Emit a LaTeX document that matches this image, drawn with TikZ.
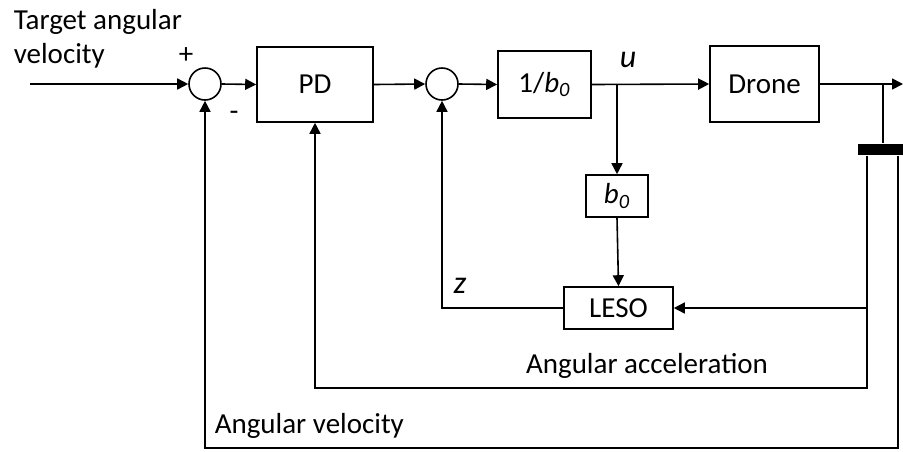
\documentclass[tikz,border=0pt]{standalone}
\usepackage{fontspec}
\setmainfont{Carlito}
\usetikzlibrary{arrows.meta, positioning, calc}

\begin{document}
\begin{tikzpicture}[x=0.5pt, y=-0.5pt, line width=0.8pt,
    every node/.style={font=\fontsize{14.5}{17}\selectfont},
    block/.style={draw, rectangle, inner sep=0pt},
    sumnode/.style={draw, circle, minimum size=16pt, inner sep=0pt},
    arr/.style={-{Triangle[length=5.5pt, width=5.5pt]}}]
    \useasboundingbox (0,0) rectangle (903,451);
    % summing points and blocks
    \node[sumnode] (s1) at (205,84) {};
    \node[block, minimum width=58pt, minimum height=37.5pt] (pd) at (315,84.5) {PD};
    \node[sumnode] (s2) at (442,84) {};
    \node[block, minimum width=46.5pt, minimum height=33.5pt] (inv) at (544.5,84.5) {1/\textit{b}\textsubscript{\textit{0}}};
    \node[block, minimum width=54.5pt, minimum height=38pt] (drone) at (764.5,84) {Drone};
    \node[block, minimum width=31pt, minimum height=21pt] (bzero) at (617,196) {\textit{b}\textsubscript{\textit{0}}};
    \node[block, minimum width=54.5pt, minimum height=21pt] (leso) at (618.5,308) {LESO};
    \node[fill, inner sep=0pt, minimum width=22.5pt, minimum height=5.5pt] (bar) at (880.5,149.5) {};
    % helper points
    \coordinate (in) at (30,84);
    \coordinate (ubr) at (617,84);
    \coordinate (out) at (903,84);
    \coordinate (tap) at (883,84);
    \coordinate (fbA) at (867,388);
    \coordinate (fbV) at (898,448);
    % forward path
    \draw[arr] (in) -- (s1.west);
    \draw[arr] (s1.east) -- (pd.west);
    \draw[arr] (pd.east) -- (s2.west);
    \draw[arr] (s2.east) -- (inv.west);
    \draw[arr] (inv.east) -- (drone.west);
    \draw[arr] (drone.east) -- (out);
    \draw[arr] (ubr) -- (bzero.north);
    \draw[arr] (bzero.south) -- (leso.north);
    \draw[arr] (leso.west) -| (s2.south);
    % feedback
    \draw (tap) -- (tap |- bar.north);
    \draw[arr] (fbA |- bar.south) -- (fbA) -| (pd.south);
    \draw[arr] (fbA |- leso.east) -- (leso.east);
    \draw[arr] (fbV |- bar.south) -- (fbV) -| (s1.south);
    % labels
    \node[anchor=north west, align=left, inner sep=0pt] (target) at (13,9) {Target angular\\velocity};
    \node (plus) at (186,56) {+};
    \node (minus) at (234,116) {-};
    \node[font=\fontsize{16}{18}\selectfont\itshape] (ulab) at (628,60) {u};
    \node[font=\fontsize{16}{18}\selectfont\itshape] (zlab) at (460,286) {z};
    \node[anchor=base] (acc) at (647,373) {Angular acceleration};
    \node[anchor=base west, inner sep=0pt] (vel) at (214,433) {Angular velocity};
\end{tikzpicture}
\end{document}
